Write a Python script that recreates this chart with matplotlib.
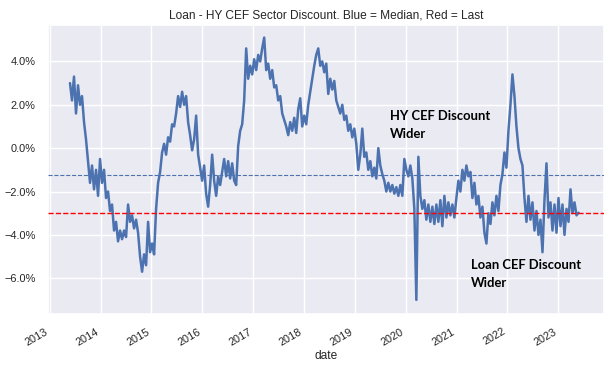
import numpy as np
import pandas as pd
import matplotlib
matplotlib.use("Agg")
import matplotlib.pyplot as plt
import matplotlib.dates as mdates
from matplotlib.ticker import PercentFormatter
import seaborn as sns

# Loan - HY CEF sector discount spread (%), roughly every two weeks
spread = [
    3.0, 2.2, 3.3, 1.6, 2.9, 2.0, 2.4, 1.2, 0.4, -0.6, -1.6, -0.8, -1.9, -1.0, -2.2, -0.5,
    -1.6, -1.0, -2.3, -2.0, -2.9, -2.6, -3.8, -3.4, -4.3, -3.8,
    -4.2, -3.8, -4.1, -2.6, -3.4, -3.1, -3.7, -3.3, -3.9, -5.0, -5.7, -4.9, -5.4, -3.4,
    -4.8, -4.4, -4.9, -2.8, -1.6, -1.1, -0.2, 0.2, -0.3, 0.5, 0.3, 1.1,
    1.0, 1.6, 2.4, 1.9, 2.6, 2.0, 2.4, 1.2, 0.6, -0.1, 0.4, 1.5, -0.3, -0.9, -1.5, -0.8,
    -2.1, -2.7, -1.7, -0.3, -1.5, -2.2, -1.3, -1.7, -1.1, -0.5,
    -1.3, -0.6, -1.4, -0.7, -1.5, -1.7, 0.1, 0.8, 1.1, 2.2, 4.6, 3.2, 3.8, 3.4, 4.1, 3.6,
    4.3, 4.0, 4.6, 5.1, 3.6, 3.9, 3.2, 3.6, 2.8, 2.9,
    2.2, 2.4, 1.6, 1.3, 1.0, 0.6, 1.2, 0.8, 1.4, 0.7, 1.8, 2.3, 1.0, 1.5, 1.1, 2.0,
    2.6, 3.2, 3.8, 4.3, 4.6, 3.8, 4.0, 3.5, 3.9, 2.5,
    3.2, 2.7, 3.1, 2.2, 1.9, 1.6, 2.0, 1.3, 1.5, 0.8, 1.1, 0.5, 0.9, 0.2, -1.0, -0.3,
    0.9, -0.4, -0.2, -1.0, -0.6, -1.3, -0.9, -1.4, 0.0, -0.8,
    -1.2, -1.5, -2.0, -1.6, -2.0, -1.7, -2.1, -1.8, -2.2, -1.7, -2.2, -0.5, -1.0, -1.3,
    -0.8, -1.4, -2.8, -7.0, -0.4, -2.2, -2.8, -2.4, -3.3, -2.6, -3.4, -2.7,
    -3.5, -2.6, -3.4, -2.4, -3.6, -2.2, -3.2, -2.5, -3.1, -2.6, -3.2, -2.3, -1.5, -2.0,
    -1.0, -1.5, -0.8, -1.3, -1.1, -2.3, -1.6, -2.6, -2.2, -3.2, -2.7, -3.9,
    -4.4, -3.0, -3.5, -2.5, -3.1, -2.2, -2.9, -1.7, -1.2, -0.2, -0.9, 0.8, 2.0, 3.4,
    2.4, 1.0, 0.0, -0.5, -0.8, -2.3, -3.4, -2.2, -3.3, -2.5, -3.8, -2.9,
    -4.0, -3.3, -4.8, -2.4, -0.7, -3.2, -2.5, -3.8, -2.6, -3.9, -2.3, -3.6, -2.6, -4.0,
    -2.8, -3.4, -1.9, -3.0, -2.5, -3.1, -2.98,
]
dates = pd.date_range("2013-05-27", "2023-05-26", periods=len(spread))
median_val = -1.24
last_val = spread[-1]

sns.set_theme(style="darkgrid")
plt.rcParams['font.family'] = ['Liberation Sans', 'DejaVu Sans']

fig, ax = plt.subplots(figsize=(6.16, 3.66), dpi=100)
fig.subplots_adjust(left=48/616, right=604/616, bottom=1-314/366, top=1-25/366)

ax.plot(dates, spread, color='#4C72B0', lw=1.8)
ax.axhline(median_val, color='#4C72B0', ls='--', lw=0.8, zorder=3)
ax.axhline(last_val, color='red', ls='--', lw=1.0, zorder=3)

ax.set_xlim(pd.Timestamp("2012-12-20"), pd.Timestamp("2023-11-25"))
ax.set_ylim(-7.65, 5.68)
ax.yaxis.set_major_formatter(PercentFormatter(xmax=100, decimals=1))
ax.xaxis.set_major_locator(mdates.YearLocator())
ax.xaxis.set_major_formatter(mdates.DateFormatter('%Y'))
for lbl in ax.get_xticklabels():
    lbl.set_rotation(30)
    lbl.set_ha('right')
ax.tick_params(labelsize=7.9, pad=3)
ax.set_xlabel('date', fontsize=8.6, labelpad=2)
ax.set_title('Loan - HY CEF Sector Discount. Blue = Median, Red = Last', fontsize=8.6, pad=5)

ax.text(0.615, 0.705, 'HY CEF Discount\nWider', transform=ax.transAxes, ha='left', va='top',
        fontsize=9.4, fontweight='bold', family=['Lato', 'DejaVu Sans'], color='black',
        linespacing=1.6)
ax.text(0.761, 0.19, 'Loan CEF Discount\nWider', transform=ax.transAxes, ha='left', va='top',
        fontsize=9.4, fontweight='bold', family=['Lato', 'DejaVu Sans'], color='black',
        linespacing=1.6)

fig.savefig('out.png', dpi=100)
